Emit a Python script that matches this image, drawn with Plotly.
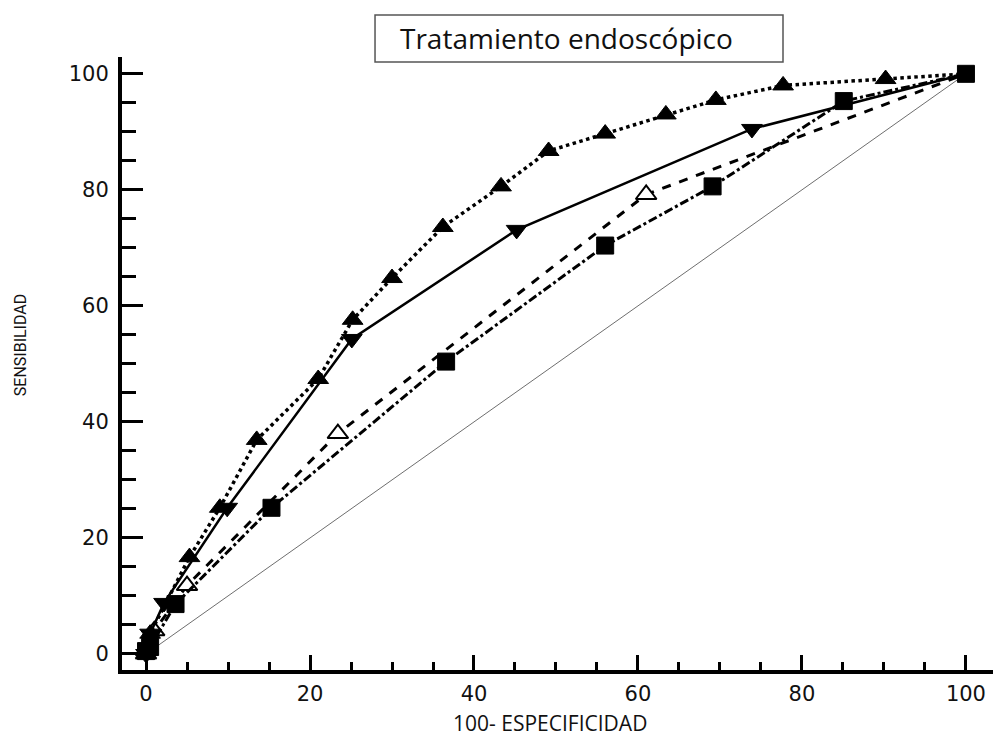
import plotly.graph_objects as go

# ROC curves: 100 - specificity (x) vs sensitivity (y)
fpr_a = [0, 0.5, 5.3, 9.0, 13.5, 21.0, 25.2, 30.0, 36.2, 43.3, 49.1, 56.0, 63.4, 69.5, 77.7, 90.2, 100]
sens_a = [0.5, 3.5, 16.7, 25.2, 36.9, 47.4, 57.6, 64.8, 73.6, 80.6, 86.7, 89.7, 93.0, 95.5, 98.0, 99.1, 100]

fpr_b = [0, 0.5, 2.2, 9.9, 25.1, 45.2, 73.9, 100]
sens_b = [0, 3.5, 8.8, 25.2, 54.3, 73.1, 90.5, 100]

fpr_c = [0, 1.0, 5.0, 23.4, 61.0, 100]
sens_c = [0, 4.0, 11.8, 38.0, 79.2, 100]

fpr_d = [0, 0.5, 3.6, 15.3, 36.6, 56.0, 69.1, 85.1, 100]
sens_d = [0.5, 1.2, 8.6, 25.2, 50.4, 70.4, 80.6, 95.3, 100]

chance_x = [0, 100]
chance_y = [0, 100]

tick_vals = [0, 20, 40, 60, 80, 100]
tick_text = ["0", "20", "40", "60", "80", "100"]

title_text = "Tratamiento endoscópico"
x_title = "100- ESPECIFICIDAD"
y_title = "SENSIBILIDAD"


def sizes(n, s, hide_last=True):
    out = [s] * n
    if hide_last:
        out[-1] = 0
    return out


fig = go.Figure()

# reference diagonal
fig.add_trace(go.Scatter(x=chance_x, y=chance_y, mode="lines",
                         line=dict(color="#6e6e6e", width=1), hoverinfo="skip"))

# open triangles, dashed
fig.add_trace(go.Scatter(x=fpr_c, y=sens_c, mode="lines+markers",
                         line=dict(color="black", width=3, dash="dash"),
                         marker=dict(symbol="triangle-up", color="white", opacity=1,
                                     size=sizes(len(fpr_c), 18),
                                     line=dict(color="black", width=2))))

# squares, dash-dot
fig.add_trace(go.Scatter(x=fpr_d, y=sens_d, mode="lines+markers",
                         line=dict(color="black", width=3, dash="dashdot"),
                         marker=dict(symbol="square", color="black", opacity=1,
                                     size=sizes(len(fpr_d), 17, hide_last=False),
                                     line=dict(color="black", width=1))))

# inverted triangles, solid
fig.add_trace(go.Scatter(x=fpr_b, y=sens_b, mode="lines+markers",
                         line=dict(color="black", width=2.5),
                         marker=dict(symbol="triangle-down", color="black", opacity=1,
                                     size=sizes(len(fpr_b), 18),
                                     line=dict(color="black", width=1))))

# triangles, dotted
fig.add_trace(go.Scatter(x=fpr_a, y=sens_a, mode="lines+markers",
                         line=dict(color="black", width=3.5, dash="dot"),
                         marker=dict(symbol="triangle-up", color="black", opacity=1,
                                     size=sizes(len(fpr_a), 18),
                                     line=dict(color="black", width=1))))

tick_font = dict(family="DejaVu Sans", size=21, color="#111")

fig.update_layout(
    width=997, height=738,
    margin=dict(l=122, r=4, t=57, b=68),
    paper_bgcolor="white", plot_bgcolor="white",
    showlegend=False,
    xaxis=dict(range=[-2.93, 103.3], showgrid=False, zeroline=False,
               showline=True, linecolor="black", linewidth=4,
               ticks="inside", ticklen=15, tickwidth=3, tickcolor="black",
               tickvals=tick_vals, ticktext=tick_text, tickfont=tick_font,
               ticklabelstandoff=2,
               minor=dict(dtick=5, tick0=0, ticks="inside", ticklen=8,
                          tickwidth=2.5, tickcolor="black", showgrid=False)),
    yaxis=dict(range=[-2.76, 102.9], showgrid=False, zeroline=False,
               showline=True, linecolor="black", linewidth=4,
               ticks="inside", ticklen=21, tickwidth=3, tickcolor="black",
               tickvals=tick_vals, ticktext=tick_text, tickfont=tick_font,
               ticklabelstandoff=5,
               minor=dict(dtick=5, tick0=0, ticks="inside", ticklen=14,
                          tickwidth=2.5, tickcolor="black", showgrid=False)),
    shapes=[dict(type="rect", xref="paper", yref="paper",
                 x0=0.2905, x1=0.7589, y0=0.9918, y1=1.0685,
                 line=dict(color="#555", width=1.5), fillcolor="white")],
    annotations=[
        dict(text=title_text, xref="paper", yref="paper", x=0.3169, y=1.031,
             xanchor="left", yanchor="middle", showarrow=False,
             font=dict(family="Open Sans", size=28, color="#111")),
        dict(text=x_title, xref="paper", yref="paper", x=0.4914, y=-0.0865,
             xanchor="center", yanchor="middle", showarrow=False,
             font=dict(family="Open Sans", size=21, color="#111")),
        dict(text=y_title, xref="paper", yref="paper", x=-0.117, y=0.530,
             xanchor="center", yanchor="middle", showarrow=False, textangle=-90,
             font=dict(family="Liberation Sans Narrow, Roboto", size=16, color="#111")),
    ],
)

fig.write_html("out.html")
